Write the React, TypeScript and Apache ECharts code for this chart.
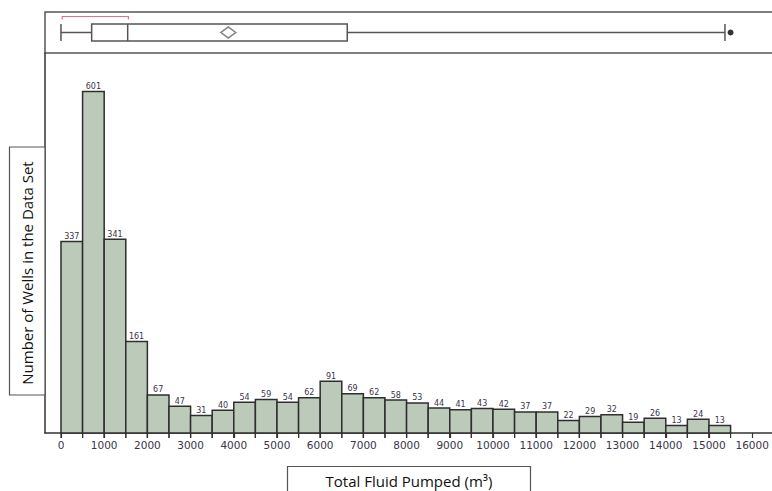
import React, { useEffect, useRef } from "react";
import * as echarts from "echarts";

// Histogram bins (m³) and counts
const binStarts = [0, 500, 1000, 1500, 2000, 2500, 3000, 3500, 4000, 4500, 5000, 5500, 6000, 6500, 7000, 7500, 8000, 8500, 9000, 9500, 10000, 10500, 11000, 11500, 12000, 12500, 13000, 13500, 14000, 14500, 15000];
const binWidth = 500;
const counts = [337, 601, 341, 161, 67, 47, 31, 40, 54, 59, 54, 62, 91, 69, 62, 58, 53, 44, 41, 43, 42, 37, 37, 22, 29, 32, 19, 26, 13, 24, 13];

// Box plot summary: [min, Q1, median, Q3, upper whisker]
const boxStats = [0, 710, 1544, 6627, 15370];
const meanValue = 3873;
const outliers = [15500];
const shortestHalf = [30, 1560];

const xLabel = "Total Fluid Pumped (m³)";
const yLabel = "Number of Wells in the Data Set";

export default function App() {
  const ref = useRef<HTMLDivElement>(null);
  useEffect(() => {
    if (!ref.current) return;
    const chart = echarts.init(ref.current, undefined, { renderer: "svg" });
    const histData = binStarts.map((s, i) => [s, s + binWidth, counts[i]]);
    const xMin = -370;
    const xMax = 16760;
    const tickFont = "DejaVu Sans, Verdana, sans-serif";
    const labelFont = "Open Sans, Noto Sans, sans-serif";

    const option: any = {
      animation: false,
      backgroundColor: "#ffffff",
      grid: [
        { left: 45, top: 12, width: 740, height: 41, show: true, borderColor: "#555", borderWidth: 1.5, backgroundColor: "transparent", outerBoundsMode: "none", containLabel: false },
        { left: 45, top: 53, width: 740, height: 380, outerBoundsMode: "none", containLabel: false },
      ],
      xAxis: [
        { type: "value", gridIndex: 0, min: xMin, max: xMax, show: false },
        {
          type: "value",
          gridIndex: 1,
          min: xMin,
          max: xMax,
          splitNumber: 17,
          axisLine: { show: true, onZero: false, lineStyle: { color: "#333", width: 1.5 } },
          axisTick: { show: true, length: 5, lineStyle: { color: "#333", width: 1.2 } },
          axisLabel: {
            show: true,
            showMinLabel: false,
            showMaxLabel: false,
            fontSize: 10.5,
            fontFamily: tickFont,
            color: "#3a3548",
            margin: 6,
            formatter: (v: number) => String(v),
          },
          splitLine: { show: false },
        },
      ],
      yAxis: [
        { type: "category", gridIndex: 0, data: ["box"], show: false },
        {
          type: "value",
          gridIndex: 1,
          min: 0,
          max: 669,
          axisLine: { show: true, onZero: false, lineStyle: { color: "#333", width: 1.5 } },
          axisTick: { show: false },
          axisLabel: { show: false },
          splitLine: { show: false },
        },
      ],
      series: [
        {
          type: "boxplot",
          xAxisIndex: 0,
          yAxisIndex: 0,
          boxWidth: [17, 17],
          data: [boxStats],
          itemStyle: { color: "#ffffff", borderColor: "#555", borderWidth: 1.5 },
        },
        {
          type: "scatter",
          xAxisIndex: 0,
          yAxisIndex: 0,
          data: [[meanValue, 0]],
          symbol: "diamond",
          symbolSize: [15, 11],
          itemStyle: { color: "#ffffff", borderColor: "#666", borderWidth: 1.5 },
          z: 5,
        },
        {
          type: "scatter",
          xAxisIndex: 0,
          yAxisIndex: 0,
          data: outliers.map((v) => [v, 0]),
          symbol: "circle",
          symbolSize: 6,
          itemStyle: { color: "#000" },
          z: 5,
        },
        {
          type: "custom",
          xAxisIndex: 0,
          yAxisIndex: 0,
          data: [[shortestHalf[0], shortestHalf[1], 0]],
          clip: false,
          renderItem: (params: any, api: any) => {
            const a = api.coord([api.value(0), 0]);
            const b = api.coord([api.value(1), 0]);
            const y = a[1] - 16;
            return {
              type: "polyline",
              shape: { points: [[a[0], y + 3], [a[0], y], [b[0], y], [b[0], y + 3]] },
              style: { stroke: "#e8707a", lineWidth: 1.2, fill: "none" },
            };
          },
        },
        {
          type: "custom",
          xAxisIndex: 1,
          yAxisIndex: 1,
          data: histData,
          clip: false,
          renderItem: (params: any, api: any) => {
            const tl = api.coord([api.value(0), api.value(2)]);
            const br = api.coord([api.value(1), 0]);
            return {
              type: "group",
              children: [
                {
                  type: "rect",
                  shape: { x: tl[0], y: tl[1], width: br[0] - tl[0], height: br[1] - tl[1] },
                  style: { fill: "#bccbb9", stroke: "#2e2e2e", lineWidth: 1.5 },
                },
                {
                  type: "line",
                  shape: { x1: tl[0], y1: br[1], x2: tl[0], y2: br[1] + 5 },
                  style: { stroke: "#333", lineWidth: 1.2 },
                },
                {
                  type: "line",
                  shape: { x1: br[0], y1: br[1], x2: br[0], y2: br[1] + 5 },
                  style: { stroke: "#333", lineWidth: 1.2 },
                },
                {
                  type: "text",
                  style: {
                    text: String(api.value(2)),
                    x: (tl[0] + br[0]) / 2,
                    y: tl[1] - 1,
                    align: "center",
                    verticalAlign: "bottom",
                    fontSize: 8,
                    fontFamily: tickFont,
                    fill: "#3a3548",
                  },
                },
              ],
            };
          },
        },
      ],
      graphic: [
        {
          type: "rect",
          shape: { x: 9.5, y: 147, width: 35.5, height: 248 },
          style: { fill: "#ffffff", stroke: "#555", lineWidth: 1.2 },
          z: 10,
        },
        {
          type: "text",
          x: 27,
          y: 273,
          rotation: Math.PI / 2,
          style: { text: yLabel, align: "center", verticalAlign: "middle", fontSize: 15, fontFamily: labelFont, fill: "#111" },
          z: 11,
        },
        {
          type: "rect",
          shape: { x: 287.5, y: 466.5, width: 243, height: 40 },
          style: { fill: "#ffffff", stroke: "#555", lineWidth: 1.2 },
          z: 10,
        },
        {
          type: "text",
          x: 409,
          y: 481,
          style: { text: xLabel, align: "center", verticalAlign: "middle", fontSize: 15, fontFamily: labelFont, fill: "#111" },
          z: 11,
        },
      ],
    };
    chart.setOption(option);
    return () => chart.dispose();
  }, []);
  return <div ref={ref} style={{ position: "absolute", left: 0, top: 0, width: 772, height: 491, background: "#fff" }} />;
}
